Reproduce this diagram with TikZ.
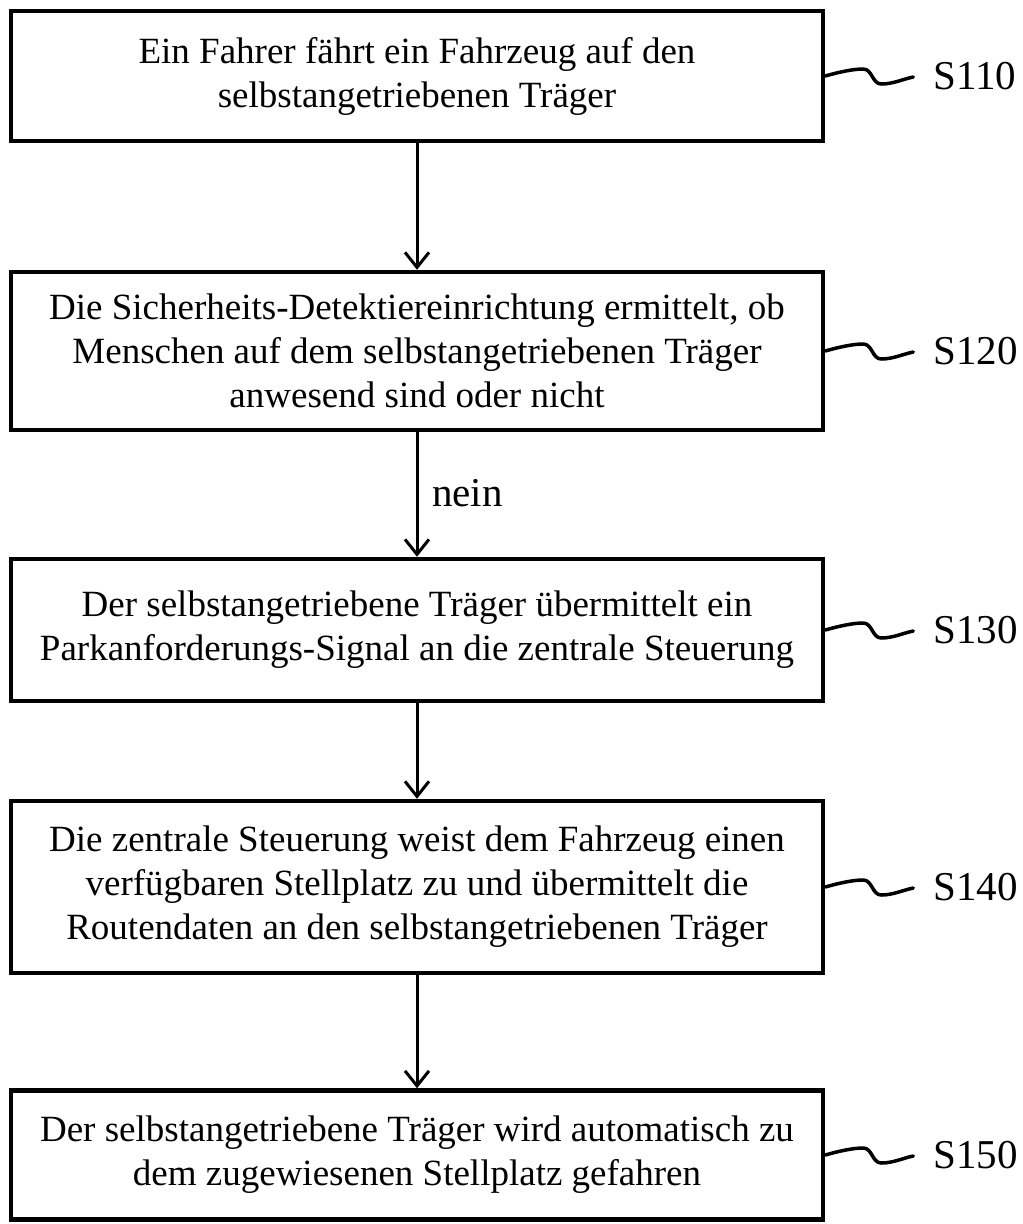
\documentclass[tikz,border=0pt]{standalone}
\usepackage{fontspec}
\setmainfont{Liberation Serif}
\usetikzlibrary{arrows.meta}
\tikzset{
  stepbox/.style={draw, line width=4.5pt, minimum width=812pt, align=center, inner sep=4pt,
    font=\fontsize{37}{44}\selectfont},
  flowarrow/.style={line width=3pt, -{Straight Barb[length=15pt,width=24pt,line width=3pt]}},
  squig/.style={line width=3.5pt, line cap=round},
  steplabel/.style={anchor=west, inner sep=0pt, font=\fontsize{41}{48}\selectfont}
}
\begin{document}
\begin{tikzpicture}[x=1pt,y=-1pt]
\useasboundingbox (0,0) rectangle (1023,1224);
\node[stepbox, minimum height=130pt] (b1) at (417,76) {Ein Fahrer fährt ein Fahrzeug auf den\\selbstangetriebenen Träger};
\node[stepbox, minimum height=158pt] (b2) at (417,351) {Die Sicherheits-Detektiereinrichtung ermittelt, ob\\Menschen auf dem selbstangetriebenen Träger\\anwesend sind oder nicht};
\node[stepbox, minimum height=142pt] (b3) at (417,630) {Der selbstangetriebene Träger übermittelt ein\\Parkanforderungs-Signal an die zentrale Steuerung};
\node[stepbox, minimum height=172pt] (b4) at (417,887) {Die zentrale Steuerung weist dem Fahrzeug einen\\verfügbaren Stellplatz zu und übermittelt die\\Routendaten an den selbstangetriebenen Träger};
\node[stepbox, minimum height=129pt] (b5) at (417,1155) {Der selbstangetriebene Träger wird automatisch zu\\dem zugewiesenen Stellplatz gefahren};

\draw[flowarrow] (b1.south) -- (b2.north);
\draw[flowarrow] (b2.south) -- (b3.north);
\draw[flowarrow] (b3.south) -- (b4.north);
\draw[flowarrow] (b4.south) -- (b5.north);

\node[anchor=base west, inner sep=0pt, font=\fontsize{41}{48}\selectfont] (nein) at (432,506) {nein};

\foreach \b/\t in {b1/S110, b2/S120, b3/S130, b4/S140, b5/S150}{
  \node[steplabel] (l\b) at ([xshift=108pt]\b.east) {\t};
  \draw[squig] (\b.east) .. controls +(14,-4) and +(-10,0) .. ++(38,-7)
     .. controls +(9,0) and +(-9,0) .. ++(18,15)
     .. controls +(12,0) and +(-10,2) .. ++(32,-7);
}
\end{tikzpicture}
\end{document}
